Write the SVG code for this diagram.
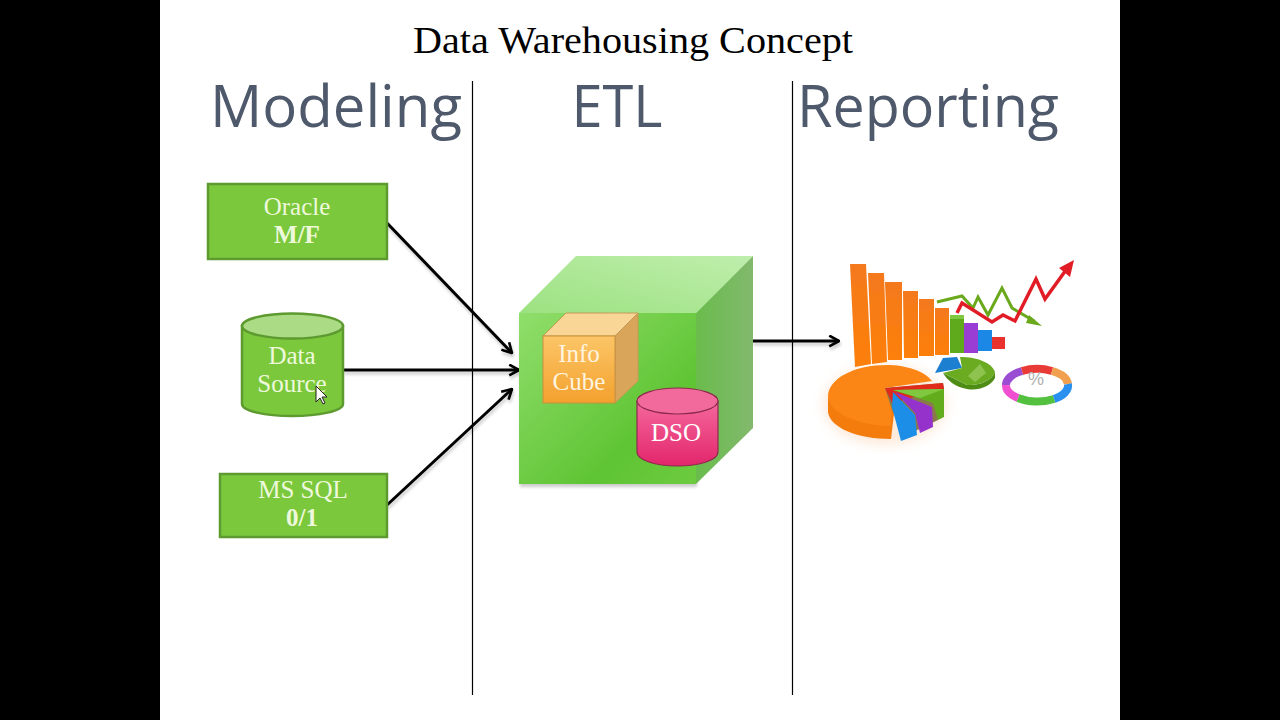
<svg xmlns="http://www.w3.org/2000/svg" width="1280" height="720" viewBox="0 0 1280 720">
<style>
.head{font-family:"Open Sans","DejaVu Sans",sans-serif;font-size:58px;fill:#4f596c;text-anchor:middle}
.lab{font-family:"Liberation Serif",serif;font-size:25px;fill:#eef9dc;text-anchor:middle}
.b{font-weight:bold}
.conn{stroke:#000;stroke-width:3;fill:none;marker-end:url(#arr)}
.div{stroke:#000;stroke-width:1.2}
.gbox{fill:#7cc83c;stroke:#5d9a30;stroke-width:2.5}
.ring{fill:none;stroke-width:8}
</style>
<defs>
<marker id="arr" viewBox="0 0 12 12" refX="11" refY="6" markerWidth="13" markerHeight="13" markerUnits="userSpaceOnUse" orient="auto"><path d="M2 1L11 6L2 11" fill="none" stroke="#000" stroke-width="2.4"/></marker>
<filter id="sh" x="-10%" y="-10%" width="120%" height="130%"><feDropShadow dx="1" dy="3" stdDeviation="1.500" flood-color="#000" flood-opacity=".2"/></filter>
<filter id="soft" x="-5%" y="-5%" width="110%" height="110%"><feGaussianBlur stdDeviation=".5"/></filter>
<filter id="glow" x="-20%" y="-20%" width="140%" height="140%"><feGaussianBlur stdDeviation="6"/></filter>
<linearGradient id="front" x1="0" y1="0" x2="1" y2="1"><stop offset="0" stop-color="#90de6c"/><stop offset=".7" stop-color="#5fc433"/><stop offset="1" stop-color="#6ecb40"/></linearGradient>
<linearGradient id="top" x1="0" y1="1" x2="1" y2="0"><stop offset="0" stop-color="#9ce281"/><stop offset="1" stop-color="#bfeeac"/></linearGradient>
<linearGradient id="side" x1="0" y1="0" x2="1" y2="0"><stop offset="0" stop-color="#69bc4c"/><stop offset="1" stop-color="#82b96d"/></linearGradient>
<linearGradient id="ora" x1="0" y1="0" x2="0" y2="1"><stop offset="0" stop-color="#fcc567"/><stop offset="1" stop-color="#f3a12e"/></linearGradient>
<linearGradient id="pink" x1="0" y1="0" x2="0" y2="1"><stop offset="0" stop-color="#f4689c"/><stop offset="1" stop-color="#e3266c"/></linearGradient>
<linearGradient id="bar" x1="0" y1="0" x2="0" y2="1"><stop offset="0" stop-color="#f4791e"/><stop offset="1" stop-color="#fd8008"/></linearGradient>
</defs>
<rect width="1280" height="720" fill="#000"/>
<rect x="160" y="0" width="960" height="720" fill="#fff"/>
<text id="title" x="633" y="53" font-family="Liberation Serif, serif" font-size="37" fill="#000" text-anchor="middle" textLength="440" lengthAdjust="spacingAndGlyphs">Data Warehousing Concept</text>
<text class="head" x="336" y="127" textLength="252" lengthAdjust="spacingAndGlyphs">Modeling</text>
<text class="head" x="617" y="127" textLength="91" lengthAdjust="spacingAndGlyphs">ETL</text>
<text class="head" x="928" y="127" textLength="262" lengthAdjust="spacingAndGlyphs">Reporting</text>
<line class="div" x1="472.500" y1="81" x2="472.500" y2="695"/>
<line class="div" x1="792.500" y1="81" x2="792.500" y2="695"/>
<g id="connectors" filter="url(#sh)">
<line class="conn" x1="387" y1="223" x2="512" y2="353"/>
<line class="conn" x1="343" y1="370" x2="519" y2="370"/>
<line class="conn" x1="387" y1="505" x2="512" y2="389"/>
<line class="conn" x1="752" y1="341" x2="839" y2="341"/>
</g>
<g id="oracle"><rect class="gbox" x="208" y="184" width="179" height="75"/><text class="lab" x="297" y="215">Oracle</text><text class="lab b" x="297" y="243">M/F</text></g>
<g id="datasource">
<path class="gbox" d="M242 326V404C242 411 265 416 292 416S343 411 343 404V326Z"/>
<ellipse cx="292.500" cy="326" rx="50.500" ry="12.500" fill="#abdb84" stroke="#5d9a30" stroke-width="2.500"/>
<text class="lab" x="292" y="364">Data</text><text class="lab" x="292" y="392">Source</text>
<path d="M316 386V402L320 398L323 404L325 403L322 397L327 397Z" fill="#fff" stroke="#222" stroke-width="1"/>
</g>
<g id="mssql"><rect class="gbox" x="220" y="474" width="167" height="63"/><text class="lab" x="303" y="498">MS SQL</text><text class="lab b" x="302" y="526">0/1</text></g>
<g id="etlcube">
<path d="M519 484V313H696V484Z" fill="url(#front)" filter="url(#sh)"/>
<path d="M519 313L576 256H753L696 313Z" fill="url(#top)"/>
<path d="M696 313L753 256V428L696 484Z" fill="url(#side)"/>
</g>
<g id="infocube">
<path d="M543 336L566 313H638L615 336Z" fill="#f9d695" stroke="#c49a55"/>
<path d="M615 336L638 313V381L615 403Z" fill="#d9a55a" stroke="#c49a55"/>
<rect x="543" y="336" width="72" height="67" fill="url(#ora)" stroke="#c98f3f"/>
<text class="lab" x="579" y="362" style="fill:#fff4df">Info</text><text class="lab" x="579" y="390" style="fill:#fff4df">Cube</text>
</g>
<g id="dso">
<path d="M637 401V452C637 460 655 466 677.500 466S718 460 718 452V401Z" fill="url(#pink)" stroke="#8c2a4c" stroke-width="1.200"/>
<ellipse cx="677.500" cy="401" rx="40.500" ry="13" fill="#f26a9c" stroke="#8c2a4c" stroke-width="1.200"/>
<text class="lab" x="676" y="441" style="fill:#fff">DSO</text>
</g>
<g id="charts">
<ellipse cx="885" cy="405" rx="62" ry="40" fill="#fbd9bd" opacity=".55" filter="url(#glow)"/>
<g filter="url(#soft)">
<path d="M850 264H866L871 364L855 367Z" fill="url(#bar)"/>
<path d="M868 273H884L887 362L872 364Z" fill="url(#bar)"/>
<path d="M885 282H902V360H888Z" fill="url(#bar)"/>
<path d="M903 291H918V358H904Z" fill="url(#bar)"/>
<path d="M919 299H934V356H919Z" fill="url(#bar)"/>
<path d="M935 308H949V355H935Z" fill="url(#bar)"/>
<path d="M950 315H964V353H950Z" fill="#5fa91d"/>
<path d="M950 315H964V319H950Z" fill="#7fc940"/>
<path d="M964 323H978V353H964Z" fill="#9a3dd4"/>
<path d="M978 330H992V351H978Z" fill="#1c88e6"/>
<path d="M992 337H1005V349H992Z" fill="#e9322e"/>
<path d="M937 302L962 296L973 308L978 297L988 315L1002 288L1012 308L1034 321" fill="none" stroke="#6aa81e" stroke-width="3"/>
<path d="M1029 315L1042 326L1026 323Z" fill="#6aa81e"/>
<path d="M957 313L962 303L992 322L1003 315L1015 321L1036 279L1045 299L1066 270" fill="none" stroke="#e21f26" stroke-width="3.500"/>
<path d="M1059 268L1074 260L1070 277Z" fill="#e21f26"/>
<path d="M828 396V412C830 428 858 439 891 439L895 405L828 396Z" fill="#f37b10"/>
<path d="M887 365C855 365 828 378 828 397C829 413 860 426 891 426L892 403L885 388L932 381C925 371 905 365 887 365Z" fill="#fb8614"/>
<path d="M885 388L943 383L944 389L938 420L905 436L892 410Z" fill="#8a7a4a"/>
<path d="M885 388L943 383L944 389L892 403Z" fill="#e02a1a"/>
<path d="M893 390L944 389V417L938 420L933 403Z" fill="#64ad1f"/>
<path d="M893 390L944 389L920 398Z" fill="#7fc83f"/>
<path d="M895 392L932 407L933 427L920 433L915 413Z" fill="#9533cc"/>
<path d="M893 392L915 415L917 435L901 441L892 407Z" fill="#1a8ee8"/>
<path d="M935 373L943 358L957 357L962 368Z" fill="#1b7fd0"/>
<path d="M943 373L967 385C980 386 992 380 995 372V378C990 387 978 391 967 389C955 387 947 380 943 373Z" fill="#4e8d16"/>
<path d="M960 357C978 357 992 363 995 372C992 380 980 386 967 385L943 373L962 368Z" fill="#6bab24"/>
<path d="M968 376L980 364L986 373L975 382Z" fill="#8fc34f"/>
<path class="ring" d="M1006 385A31 16 0 0 1 1022 371" stroke="#9a4ed2"/>
<path class="ring" d="M1022 371A31 16 0 0 1 1052 371" stroke="#e83a36"/>
<path class="ring" d="M1052 371A31 16 0 0 1 1068 384" stroke="#f0a050"/>
<path class="ring" d="M1068 384A31 16 0 0 1 1054 399" stroke="#2a90f0"/>
<path class="ring" d="M1054 399A31 16 0 0 1 1018 398" stroke="#52c040"/>
<path class="ring" d="M1018 398A31 16 0 0 1 1006 385" stroke="#ef4fd0"/>
</g>
<text x="1036" y="385" font-family="Liberation Sans, sans-serif" font-size="18" fill="#b0b0b0" text-anchor="middle">%</text>
</g>
</svg>
